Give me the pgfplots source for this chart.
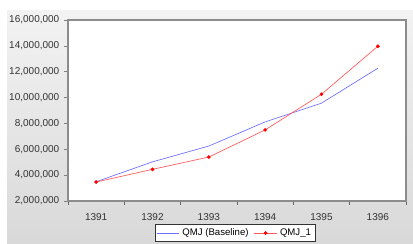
\documentclass[border=0pt]{standalone}
\usepackage{pgfplots}
\pgfplotsset{compat=1.18}
\usepackage{fontspec}
\setmainfont{Liberation Sans}
\definecolor{bluel}{RGB}{110,110,255}
\definecolor{redl}{RGB}{255,90,90}
\begin{document}
\begin{tikzpicture}
\begin{scope}[x=0.75pt,y=0.75pt]
\useasboundingbox (0,0) rectangle (413,243);
\shade[top color=black!5, bottom color=black!15] (7,0) rectangle (413,232);
\end{scope}
\begin{axis}[
  at={(51pt,31.5pt)}, anchor=south west,
  scale only axis, width=253.5pt, height=135.75pt,
  xmin=0.5, xmax=6.5, ymin=2000000, ymax=16000000,
  axis background/.style={fill=white},
  axis line style={black!45, line width=0.8pt},
  xtick={1,2,3,4,5,6},
  xticklabels={1391,1392,1393,1394,1395,1396},
  major x tick style={draw=none},
  minor xtick={0.5,1.5,2.5,3.5,4.5,5.5,6.5},
  minor x tick style={black!60, line width=0.6pt},
  minor tick length=3pt,
  ytick={2000000,4000000,6000000,8000000,10000000,12000000,14000000,16000000},
  major y tick style={black!50, line width=0.4pt},
  major tick length=3pt,
  tick align=outside,
  xtick pos=bottom, ytick pos=left,
  scaled y ticks=false,
  yticklabel style={/pgf/number format/.cd, fixed, 1000 sep={,}, assume math mode=true},
  ticklabel style={font=\fontsize{7.5}{9}\selectfont, text=black!80},
  xticklabel style={yshift=-3pt},
  legend columns=2,
  legend style={at={(0.494,-0.177)}, anchor=center, font=\fontsize{7.2}{9}\selectfont,
    draw=black!80, fill=white, inner sep=1pt, /tikz/every even column/.append style={column sep=2pt}},
  legend cell align=left,
]
\addplot[bluel, line width=0.5pt, mark=none] coordinates {
(1,3490000) (2,5030000) (3,6250000) (4,8120000) (5,9570000) (6,12270000)};
\addlegendentry{QMJ (Baseline)}
\addplot[redl, line width=0.5pt, mark=*, mark size=1.1pt, mark options={fill=red, draw=red}] coordinates {
(1,3470000) (2,4450000) (3,5400000) (4,7500000) (5,10260000) (6,13970000)};
\addlegendentry{QMJ\_1}
\end{axis}
\end{tikzpicture}
\end{document}
